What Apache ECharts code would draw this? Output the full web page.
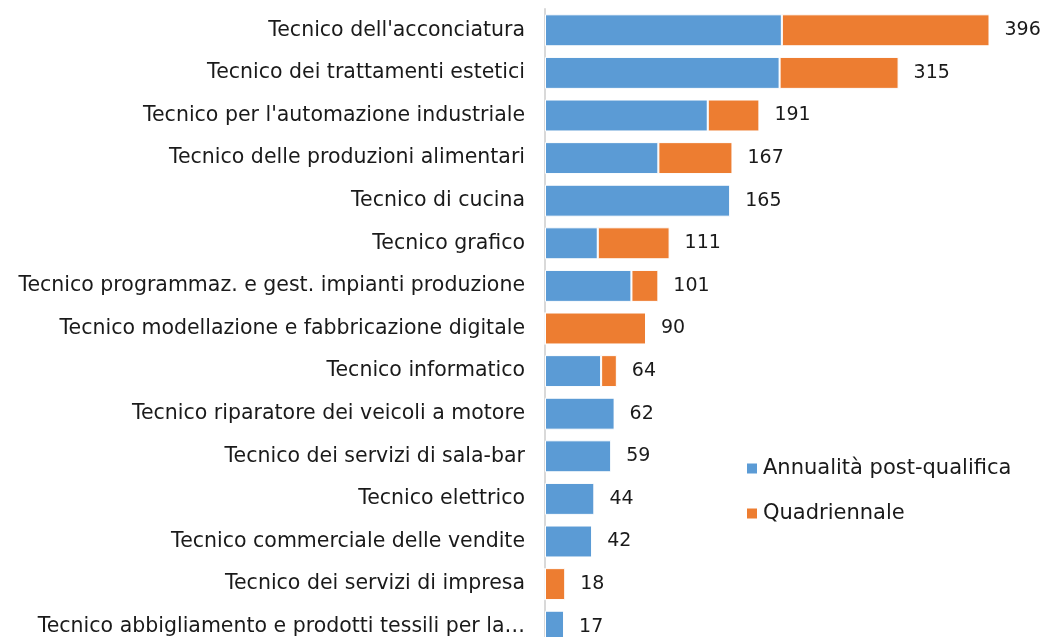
<!DOCTYPE html>
<html>
<head>
<meta charset="utf-8">
<script src="https://cdn.jsdelivr.net/npm/echarts@6/dist/echarts.min.js"></script>
<style>
  html, body { margin: 0; padding: 0; background: #fff; overflow: hidden; }
  #main { width: 1042px; height: 660px; }
</style>
</head>
<body>
<div id="main"></div>
<script>
// categories, top to bottom
var categories = [
  "Tecnico dell'acconciatura",
  "Tecnico dei trattamenti estetici",
  "Tecnico per l'automazione industriale",
  "Tecnico delle produzioni alimentari",
  "Tecnico di cucina",
  "Tecnico grafico",
  "Tecnico programmaz. e gest. impianti produzione",
  "Tecnico modellazione e fabbricazione digitale",
  "Tecnico informatico",
  "Tecnico riparatore dei veicoli a motore",
  "Tecnico dei servizi di sala-bar",
  "Tecnico elettrico",
  "Tecnico commerciale delle vendite",
  "Tecnico dei servizi di impresa",
  "Tecnico abbigliamento e prodotti tessili per la…"
];
var annualita = [211, 209, 145, 101, 165, 47, 77, 0, 50, 62, 59, 44, 42, 0, 17];
var quadriennale = [185, 106, 46, 66, 0, 64, 24, 90, 14, 0, 0, 0, 0, 18, 0];
var totals = [396, 315, 191, 167, 165, 111, 101, 90, 64, 62, 59, 44, 42, 18, 17];

var font = "'DejaVu Sans', sans-serif";

var chart = echarts.init(document.getElementById('main'));
chart.setOption({
  animation: false,
  textStyle: { fontFamily: font },
  grid: { left: 545, top: 9, width: 449, height: 639 },
  legend: {
    data: ['Annualità post-qualifica', 'Quadriennale'],
    orient: 'vertical',
    left: 740,
    top: 453,
    itemWidth: 12,
    itemHeight: 12,
    itemGap: 24,
    icon: 'rect',
    textStyle: { fontSize: 21, color: '#1a1a1a', fontFamily: font }
  },
  xAxis: {
    type: 'value',
    min: 0,
    max: 400,
    show: false
  },
  yAxis: {
    type: 'category',
    data: categories,
    inverse: true,
    axisTick: { show: false },
    axisLine: { lineStyle: { color: '#d9d9d9', width: 2 } },
    axisLabel: { fontSize: 20.5, color: '#1a1a1a', margin: 20, fontFamily: font }
  },
  series: [
    {
      name: 'Annualità post-qualifica',
      type: 'bar',
      stack: 'tot',
      barWidth: '75%',
      data: annualita,
      itemStyle: { color: '#5B9BD5', borderColor: '#fff', borderWidth: 1 }
    },
    {
      name: 'Quadriennale',
      type: 'bar',
      stack: 'tot',
      barWidth: '75%',
      data: quadriennale,
      itemStyle: { color: '#ED7D31', borderColor: '#fff', borderWidth: 1 }
    },
    {
      name: 'Totale',
      type: 'bar',
      stack: 'tot',
      barWidth: '75%',
      data: totals.map(function () { return 0; }),
      itemStyle: { color: 'transparent' },
      label: {
        show: true,
        position: 'right',
        distance: 15,
        fontSize: 19,
        color: '#1a1a1a',
        fontFamily: font,
        formatter: function (p) { return totals[p.dataIndex]; }
      }
    }
  ]
});
</script>
</body>
</html>
